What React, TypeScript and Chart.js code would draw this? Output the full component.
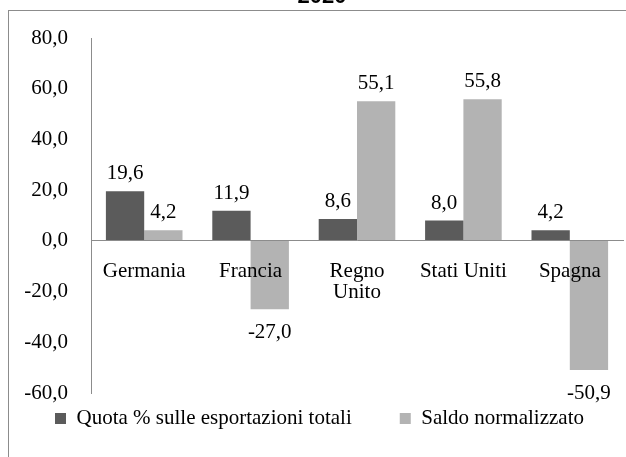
import React, { useEffect, useRef } from 'react';
import { Chart, registerables } from 'chart.js';

Chart.register(...registerables);

const categories: (string | string[])[] = ['Germania', 'Francia', ['Regno', 'Unito'], 'Stati Uniti', 'Spagna'];
const quotaEsportazioni = [19.6, 11.9, 8.6, 8.0, 4.2];
const saldoNormalizzato = [4.2, -27.0, 55.1, 55.8, -50.9];
const seriesLabels = ['Quota % sulle esportazioni totali', 'Saldo normalizzato'];
const yMin = -60;
const yMax = 80;
const yStep = 20;
const titleText = '2020';

const SERIF = '"Liberation Serif", "Times New Roman", serif';
const DARK = '#5b5b5b';
const LIGHT = '#b3b3b3';
const AXIS = '#8c8c8c';

const fmt = (v: number) => v.toFixed(1).replace('.', ',');

const framePlugin = {
  id: 'frame',
  beforeDraw(chart: any) {
    const ctx = chart.ctx;
    ctx.save();
    ctx.strokeStyle = AXIS;
    ctx.lineWidth = 1;
    ctx.strokeRect(8.5, 10.5, 800, 800);
    ctx.fillStyle = '#000';
    ctx.font = 'bold 22px "Liberation Sans", Arial, sans-serif';
    ctx.textAlign = 'center';
    ctx.textBaseline = 'alphabetic';
    ctx.fillText(titleText, 322, 3);
    ctx.restore();
  },
};

const dataLabelPlugin = {
  id: 'dataLabels',
  afterDatasetsDraw(chart: any) {
    const ctx = chart.ctx;
    ctx.save();
    ctx.fillStyle = '#000';
    ctx.font = `21px ${SERIF}`;
    ctx.textAlign = 'center';
    ctx.textBaseline = 'alphabetic';
    chart.data.datasets.forEach((ds: any, di: number) => {
      const meta = chart.getDatasetMeta(di);
      meta.data.forEach((el: any, i: number) => {
        const v = ds.data[i] as number;
        const y = v >= 0 ? el.y - 12 : el.y + 29;
        ctx.fillText(fmt(v), el.x, y);
      });
    });
    ctx.restore();
  },
};

const LEGEND_PAD = 48;
const legendPlacer = {
  id: 'legendPlacer',
  afterLayout(chart: any) {
    const lg = chart.legend;
    if (!lg) return;
    lg.left = 55 - LEGEND_PAD;
    lg.right = 1000;
    lg.top = 408 - LEGEND_PAD;
    lg.bottom = 457;
  },
};

export default function App() {
  const ref = useRef<HTMLCanvasElement | null>(null);

  useEffect(() => {
    if (!ref.current) return;
    const chart = new Chart(ref.current, {
      type: 'bar',
      data: {
        labels: categories as any,
        datasets: [
          {
            label: seriesLabels[0],
            data: quotaEsportazioni,
            backgroundColor: DARK,
            borderWidth: 0,
            categoryPercentage: 0.72,
            barPercentage: 1,
          },
          {
            label: seriesLabels[1],
            data: saldoNormalizzato,
            backgroundColor: LIGHT,
            borderWidth: 0,
            categoryPercentage: 0.72,
            barPercentage: 1,
          },
        ],
      },
      options: {
        animation: false,
        responsive: false,
        layout: { padding: { top: 38, left: 0, right: 3, bottom: 63 } },
        plugins: {
          legend: {
            display: true,
            position: 'bottom',
            align: 'start',
            maxHeight: 1,
            labels: {
              boxWidth: 11,
              boxHeight: 11,
              padding: LEGEND_PAD,
              color: '#000',
              font: { family: SERIF, size: 21 },
            },
          },
          tooltip: { enabled: false },
          title: { display: false },
        },
        scales: {
          x: {
            type: 'category',
            position: { y: 0 } as any,
            offset: true,
            grid: { display: false, drawTicks: false },
            border: { display: true, color: AXIS, width: 1, z: 1 },
            ticks: {
              z: 1,
              color: '#000',
              font: { family: SERIF, size: 21, lineHeight: 1.0 },
              padding: 20,
              maxRotation: 0,
              minRotation: 0,
              autoSkip: false,
            },
            afterFit: (scale: any) => {
              scale.height = 0;
            },
          },
          y: {
            min: yMin,
            max: yMax,
            grid: { display: false, drawTicks: false },
            border: { display: true, color: AXIS, width: 1 },
            ticks: {
              stepSize: yStep,
              color: '#000',
              font: { family: SERIF, size: 21 },
              padding: 23,
              callback: (v: any) => fmt(Number(v)),
            },
            afterFit: (scale: any) => {
              scale.width = 91;
            },
          },
        },
      },
      plugins: [framePlugin, dataLabelPlugin, legendPlacer],
    });
    return () => chart.destroy();
  }, []);

  return (
    <div style={{ position: 'absolute', left: 0, top: 0, width: 626, height: 457, background: '#fff' }}>
      <canvas ref={ref} width={626} height={457} style={{ width: 626, height: 457, display: 'block' }} />
    </div>
  );
}
